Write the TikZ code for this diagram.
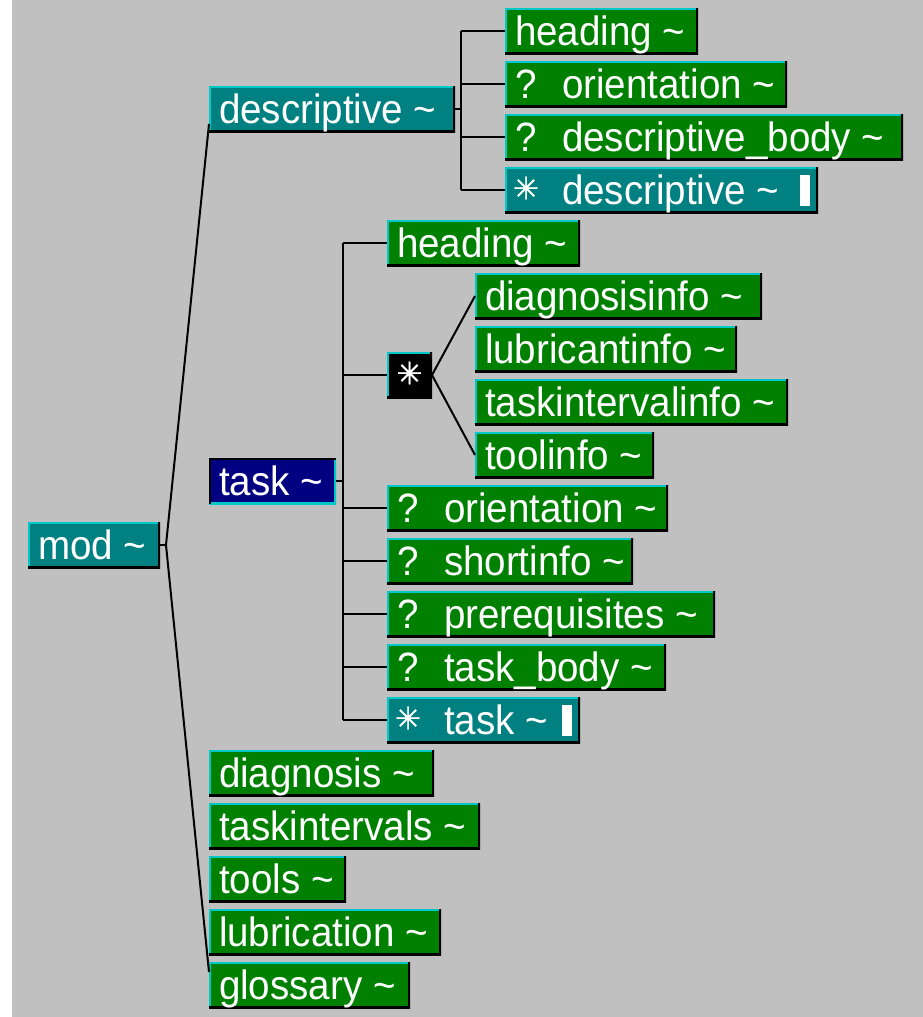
\documentclass[tikz,border=0pt]{standalone}
\usepackage{fontspec}
\setmainfont{Liberation Sans}[FakeStretch=0.94]
\newfontfamily\symfont{DejaVu Sans}[FakeBold=1.2]
\usetikzlibrary{calc}

\definecolor{bg}{HTML}{C0C0C0}
\definecolor{elgreen}{HTML}{008000}
\definecolor{elteal}{HTML}{008080}
\definecolor{elnavy}{HTML}{000080}
\definecolor{bevel}{HTML}{00C8C8}

\newcommand\astr{{\symfont\char"2733}}

% plain element box
\newcommand\tbox[6]{%
  \node[elbox,#1,minimum width=#5pt] (#2) at (#3,#4) {};
  \node[boxtext,anchor=base west] (#2-t) at ([xshift=10pt,yshift=9pt]#2.south west) {#6};}
% optional element box, "?" prefix
\newcommand\qbox[6]{%
  \node[elbox,#1,minimum width=#5pt] (#2) at (#3,#4) {};
  \node[boxtext,anchor=base west] (#2-p) at ([xshift=10pt,yshift=9pt]#2.south west) {?};
  \node[boxtext,anchor=base west] (#2-t) at ([xshift=57pt,yshift=9pt]#2.south west) {#6};}
% repeated element box, asterisk prefix and cursor bar
\newcommand\rbox[6]{%
  \node[elbox,#1,minimum width=#5pt] (#2) at (#3,#4) {};
  \node[startext,anchor=center] (#2-p) at ([xshift=21pt,yshift=2pt]#2.west) {\astr};
  \node[boxtext,anchor=base west] (#2-t) at ([xshift=57pt,yshift=9pt]#2.south west) {#6};
  \fill[white] ([xshift=-18pt,yshift=-8pt]#2.north east) rectangle ([xshift=-8pt,yshift=7pt]#2.south east);}

\tikzset{
  elbox/.style={rectangle, inner sep=0pt, outer sep=0pt, minimum height=46pt,
    anchor=north west, fill=elgreen,
    path picture={
      \draw[bevel, line width=4pt] (path picture bounding box.south west)
        -- (path picture bounding box.north west) -- (path picture bounding box.north east);
      \draw[black, line width=4pt] (path picture bounding box.north east)
        -- (path picture bounding box.south east) -- (path picture bounding box.south west);}},
  sunken/.style={
    path picture={
      \draw[bevel, line width=4pt] (path picture bounding box.north east)
        -- (path picture bounding box.south east) -- (path picture bounding box.south west);
      \draw[black, line width=4pt] (path picture bounding box.south west)
        -- (path picture bounding box.north west) -- (path picture bounding box.north east);}},
  green/.style={fill=elgreen},
  teal/.style={fill=elteal},
  navy/.style={fill=elnavy},
  boxtext/.style={inner sep=0pt, outer sep=0pt, text=white,
    font=\fontsize{41}{41}\selectfont},
  startext/.style={inner sep=0pt, outer sep=0pt, text=white,
    font=\fontsize{31}{31}\selectfont},
  wire/.style={draw=black, line width=2pt},
}

\begin{document}
\begin{tikzpicture}[x=1pt,y=-1pt]
\useasboundingbox (0,0) rectangle (923,1017);
\fill[white] (0,0) rectangle (923,1017);
\fill[bg] (12,0) rectangle (923,1017);

% root
\tbox{teal}{mod}{28}{522}{132}{mod \char`~}

% descriptive branch
\tbox{teal}{descriptive}{209}{86}{246}{descriptive \char`~}
\tbox{green}{dhead}{505}{8}{193}{heading \char`~}
\qbox{green}{dorient}{505}{61}{282}{orientation \char`~}
\qbox{green}{dbody}{505}{114}{398}{descriptive\_body \char`~}
\rbox{teal}{dstar}{505}{167}{313}{descriptive \char`~}

% task branch
\tbox{navy,sunken}{task}{209}{458}{127}{task \char`~}
\tbox{green}{thead}{387}{220}{193}{heading \char`~}
\node[elbox,fill=black,minimum width=45pt] (choice) at (387,352) {};
\node[startext] (choice-t) at ([yshift=2pt]choice.center) {\astr};
\tbox{green}{diag}{475}{273}{287}{diagnosisinfo \char`~}
\tbox{green}{lub}{475}{326}{262}{lubricantinfo \char`~}
\tbox{green}{tint}{475}{379}{313}{taskintervalinfo \char`~}
\tbox{green}{tool}{475}{432}{179}{toolinfo \char`~}
\qbox{green}{torient}{387}{485}{281}{orientation \char`~}
\qbox{green}{short}{387}{538}{246}{shortinfo \char`~}
\qbox{green}{prereq}{387}{591}{328}{prerequisites \char`~}
\qbox{green}{tbody}{387}{644}{279}{task\_body \char`~}
\rbox{teal}{tstar}{387}{697}{193}{task \char`~}

% remaining children of mod
\tbox{green}{diagnosis}{209}{750}{225}{diagnosis \char`~}
\tbox{green}{intervals}{209}{803}{271}{taskintervals \char`~}
\tbox{green}{tools}{209}{856}{137}{tools \char`~}
\tbox{green}{lubrication}{209}{909}{232}{lubrication \char`~}
\tbox{green}{glossary}{209}{962}{201}{glossary \char`~}

% connectors
\coordinate (modfork) at (166,545);
\draw[wire] (mod.east) -- (modfork);
\draw[wire] ([yshift=8pt]descriptive.south west) -- (modfork)
  -- ([yshift=-10pt]glossary.north west);

\coordinate (dfork) at (461,109);
\draw[wire] (descriptive.east) -- (dfork);
\draw[wire] (dfork |- dhead.west) -- (dfork |- dstar.west);
\foreach \c in {dhead,dorient,dbody,dstar}
  \draw[wire] (dfork |- \c.west) -- (\c.west);

\coordinate (tfork) at (343,481);
\draw[wire] (task.east) -- (tfork);
\draw[wire] (tfork |- thead.west) -- (tfork |- tstar.west);
\foreach \c in {thead,choice,torient,short,prereq,tbody,tstar}
  \draw[wire] (tfork |- \c.west) -- (\c.west);

\draw[wire] (choice.east) -- (diag.west);
\draw[wire] (choice.east) -- (tool.west);
\end{tikzpicture}
\end{document}
